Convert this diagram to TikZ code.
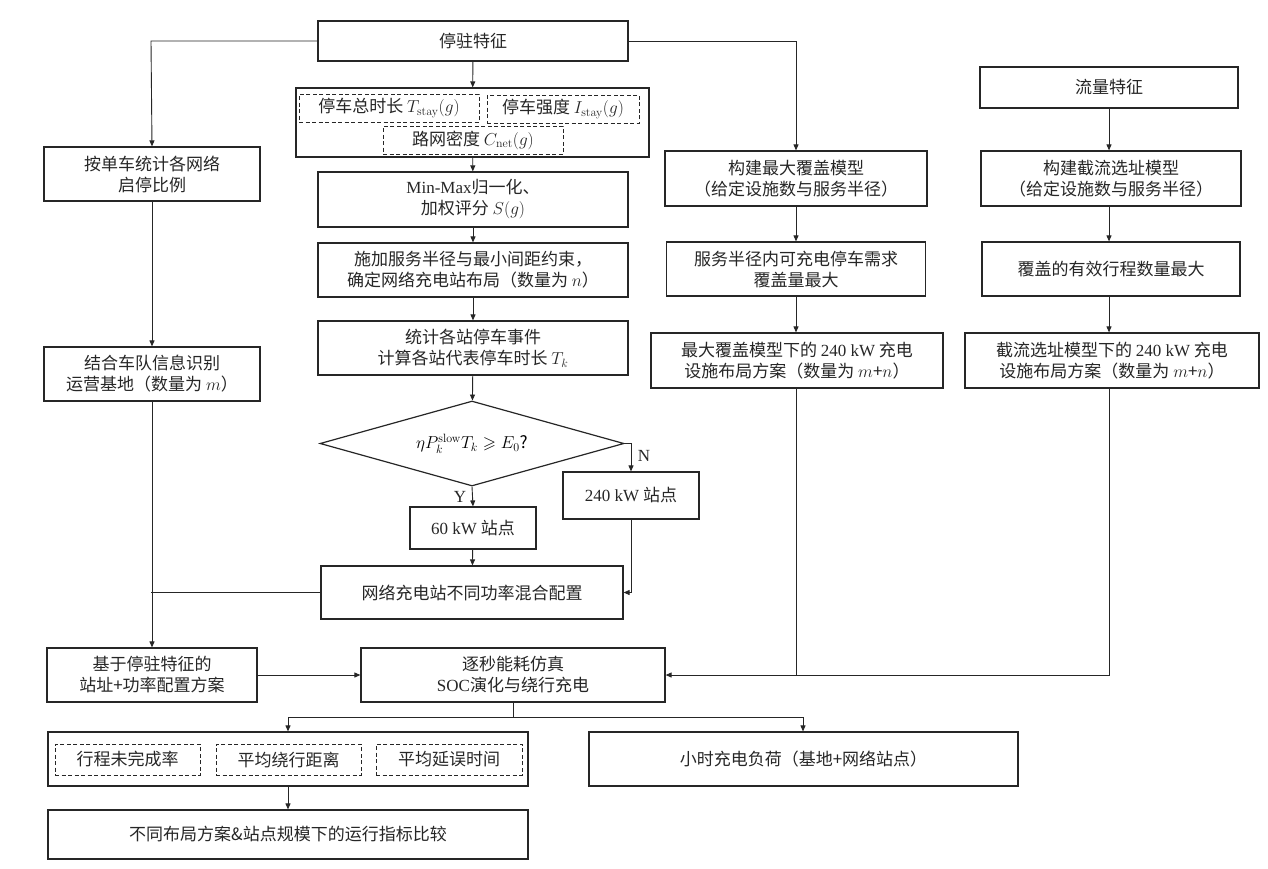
\documentclass[tikz,border=0pt]{standalone}
\usepackage{amssymb}
\usepackage[no-math]{fontspec}
\setmainfont{Noto Sans CJK SC}
\newfontfamily\lat{Liberation Serif}
\usetikzlibrary{arrows.meta,shapes.geometric}
\newcommand{\fs}{\fontsize{17}{21}\selectfont}
\tikzset{
  box/.style={draw=black!85, line width=1.2pt, inner sep=0pt, align=center, font=\fs, text=black!85},
  dbox/.style={draw=black!85, line width=1pt, dash pattern=on 4pt off 2.5pt, inner sep=0pt, align=center, font=\fs, text=black!85},
  arr/.style={-{Triangle[length=6pt,width=5pt]}, line width=0.9pt, draw=black!85},
  ln/.style={line width=0.9pt, draw=black!85},
  lbl/.style={font=\fs\lat, text=black!85, inner sep=0pt}
}
\begin{document}
\begin{tikzpicture}[x=1pt,y=-1pt]
\useasboundingbox[fill=white] (0,0) rectangle (1268,868);
% middle column
\node[box, minimum width=310pt, minimum height=40pt] (tz) at (473,41) {停驻特征};
\node[box, minimum width=353pt, minimum height=69pt] (feat) at (472.5,122.5) {};
\node[dbox, minimum width=180pt, minimum height=28pt] (d1) at (389,108) {停车总时长 $T_{\mathrm{stay}}(g)$};
\node[dbox, minimum width=152pt, minimum height=28pt] (d2) at (563,109) {停车强度 $I_{\mathrm{stay}}(g)$};
\node[dbox, minimum width=180pt, minimum height=28pt] (d3) at (473,140) {路网密度 $C_{\mathrm{net}}(g)$};
\node[box, minimum width=310pt, minimum height=55pt] (mm) at (473,199.5) {{\lat Min-Max}归一化、\\加权评分 $S(g)$};
\node[box, minimum width=310pt, minimum height=54pt] (sj) at (473,270) {施加服务半径与最小间距约束，\\确定网络充电站布局（数量为 $n$）};
\node[box, minimum width=310pt, minimum height=54pt] (tj) at (473,348) {统计各站停车事件\\计算各站代表停车时长 $T_k$};
\node[draw=black!85, line width=1.2pt, diamond, aspect=3.6, inner sep=0pt, minimum width=304pt, minimum height=85pt, font=\fs] (dia) at (472,443.5) {$\eta P_k^{\mathrm{slow}}T_k\geqslant E_0$?};
\node[box, minimum width=126pt, minimum height=42pt] (k60) at (473,528) {{\lat 60 kW} 站点};
\node[box, minimum width=136pt, minimum height=47pt] (k240) at (631,495.5) {{\lat 240 kW} 站点};
\node[box, minimum width=302pt, minimum height=53pt] (wl) at (472,592.5) {网络充电站不同功率混合配置};
% left column
\node[box, minimum width=216pt, minimum height=54pt] (ad) at (152,174) {按单车统计各网络\\启停比例};
\node[box, minimum width=216pt, minimum height=54pt] (jh) at (152,374) {结合车队信息识别\\运营基地（数量为 $m$）};
\node[box, minimum width=210pt, minimum height=54pt] (jy) at (152,675) {基于停驻特征的\\站址+功率配置方案};
% bottom
\node[box, minimum width=304pt, minimum height=54pt] (zm) at (513,675) {逐秒能耗仿真\\{\lat SOC}演化与绕行充电};
\node[box, minimum width=480pt, minimum height=54pt] (met) at (288,759) {};
\node[dbox, minimum width=145pt, minimum height=31pt] (m1) at (127.5,759.5) {行程未完成率};
\node[dbox, minimum width=145pt, minimum height=31pt] (m2) at (288.5,759.5) {平均绕行距离};
\node[dbox, minimum width=146pt, minimum height=31pt] (m3) at (449,759.5) {平均延误时间};
\node[box, minimum width=480pt, minimum height=49pt] (bt) at (288,834.5) {不同布局方案\&站点规模下的运行指标比较};
\node[box, minimum width=429pt, minimum height=54pt] (xs) at (803.5,759) {小时充电负荷（基地+网络站点）};
% right columns
\node[box, minimum width=262pt, minimum height=55pt] (gz) at (796,178.5) {构建最大覆盖模型\\（给定设施数与服务半径）};
\node[box, minimum width=259pt, minimum height=54pt] (fw) at (796,269) {服务半径内可充电停车需求\\覆盖量最大};
\node[box, minimum width=292pt, minimum height=55pt] (zd) at (797,360.5) {最大覆盖模型下的 {\lat 240 kW} 充电\\设施布局方案（数量为 $m$+$n$）};
\node[box, minimum width=258pt, minimum height=41pt] (ll) at (1109,87.5) {流量特征};
\node[box, minimum width=260pt, minimum height=55pt] (jl) at (1111,178.5) {构建截流选址模型\\（给定设施数与服务半径）};
\node[box, minimum width=258pt, minimum height=54pt] (fg) at (1111,269) {覆盖的有效行程数量最大};
\node[box, minimum width=294pt, minimum height=55pt] (jz) at (1112,360.5) {截流选址模型下的 {\lat 240 kW} 充电\\设施布局方案（数量为 $m$+$n$）};
% coordinates
\coordinate (cL) at (151,41);
\coordinate (cR) at (796,41);
\coordinate (cN) at (631,443.5);
\coordinate (cNw) at (631,592.5);
\coordinate (cWl) at (151,592.5);
\coordinate (cZd) at (796,675);
\coordinate (cJz) at (1109,675);
\coordinate (cS) at (513,717);
\coordinate (cSL) at (288,717);
\coordinate (cSR) at (803,717);
% connectors
\draw[arr] (tz.west) -- (cL) -- (ad.north);
\draw[arr] (ad) -- (jh);
\draw[arr] (jh) -- (jy);
\draw[ln] (wl.west) -- (cWl);
\draw[arr] (tz.east) -- (cR) -- (gz.north);
\draw[arr] (tz) -- (feat);
\draw[arr] (feat) -- (mm);
\draw[arr] (mm) -- (sj);
\draw[arr] (sj) -- (tj);
\draw[arr] (tj) -- (dia);
\draw[arr] (dia.south) -- (k60.north);
\draw[arr] (dia.east) -- (cN) -- (k240.north);
\draw[arr] (k60) -- (wl);
\draw[arr] (k240.south) -- (cNw) -- (wl.east);
\node[lbl] at (460,497) {Y};
\node[lbl] at (644,456) {N};
\draw[arr] (jy) -- (zm);
\draw[ln] (zd.south -| cZd) -- (cZd);
\draw[arr] (jz.south -| cJz) -- (cJz) -- (zm.east);
\draw[ln] (zm.south) -- (cS);
\draw[arr] (cS) -- (cSL) -- (met.north);
\draw[arr] (cS) -- (cSR) -- (xs.north -| cSR);
\draw[arr] (met) -- (bt);
\draw[arr] (ll) -- (jl.north -| ll);
\draw[arr] (jl.south -| ll) -- (fg.north -| ll);
\draw[arr] (fg.south -| ll) -- (jz.north -| ll);
\draw[arr] (gz.south) -- (fw.north);
\draw[arr] (fw.south) -- (zd.north -| fw);
\end{tikzpicture}
\end{document}
